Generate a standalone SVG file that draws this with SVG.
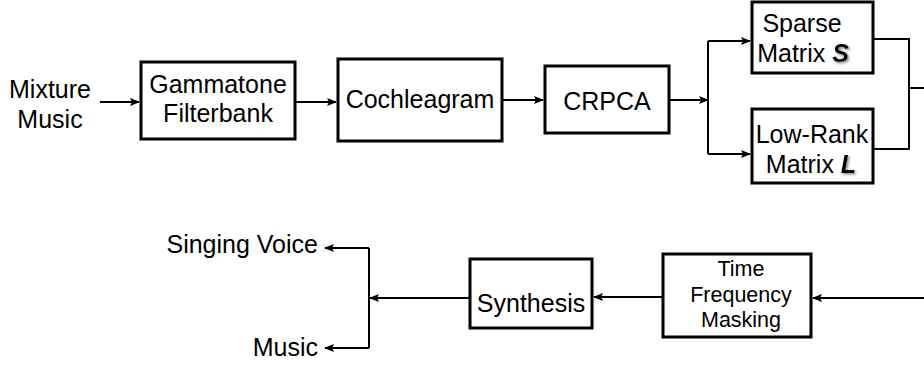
<svg xmlns="http://www.w3.org/2000/svg" width="924" height="367" viewBox="0 0 924 367">
<style>
.box{fill:#fff;stroke:#000;stroke-width:3}
.t{font-family:"Liberation Sans",Arial,sans-serif;font-size:25px;fill:#000}
.m{text-anchor:middle}
.e{text-anchor:end}
.c{fill:none;stroke:#000;stroke-width:2}
.a{fill:none;stroke:#000;stroke-width:2;marker-end:url(#ah)}
.bi{font-weight:bold;font-style:italic;filter:url(#sh)}
</style>
<defs>
<marker id="ah" markerUnits="userSpaceOnUse" markerWidth="10" markerHeight="8" refX="9" refY="4" orient="auto">
<path d="M0,0 L10,4 L0,8 L2,4 Z" fill="#000"/>
</marker>
<filter id="sh" x="-20%" y="-20%" width="150%" height="150%">
<feDropShadow dx="1.5" dy="1.5" stdDeviation="0.8" flood-color="#888"/>
</filter>
</defs>
<rect width="924" height="367" fill="#fff"/>
<g id="input">
<text class="t m" x="50" y="98">Mixture</text>
<text class="t m" x="50" y="128">Music</text>
</g>
<g id="gammatone">
<rect class="box" x="141" y="62" width="154" height="77"/>
<text class="t m" x="218" y="93">Gammatone</text>
<text class="t m" x="218" y="122">Filterbank</text>
</g>
<g id="cochleagram">
<rect class="box" x="338" y="59" width="164" height="82"/>
<text class="t m" x="420" y="108">Cochleagram</text>
</g>
<g id="crpca">
<rect class="box" x="545" y="66" width="124" height="67"/>
<text class="t m" x="607" y="110">CRPCA</text>
</g>
<g id="sparse">
<rect class="box" x="752" y="2" width="121" height="71"/>
<text class="t m" x="802" y="32">Sparse</text>
<text class="t m" x="803" y="62">Matrix <tspan class="bi">S</tspan></text>
</g>
<g id="lowrank">
<rect class="box" x="752" y="109" width="121" height="74"/>
<text class="t m" x="812" y="143">Low-Rank</text>
<text class="t m" x="811" y="173">Matrix <tspan class="bi">L</tspan></text>
</g>
<g id="tfm">
<rect class="box" x="663" y="254" width="148" height="83"/>
<text class="t m" x="741" y="276" style="font-size:21.5px">Time</text>
<text class="t m" x="741" y="302" style="font-size:21.5px">Frequency</text>
<text class="t m" x="741" y="327" style="font-size:21.5px">Masking</text>
</g>
<g id="synthesis">
<rect class="box" x="470" y="259" width="122" height="69"/>
<text class="t m" x="531" y="312">Synthesis</text>
</g>
<g id="outputs">
<text class="t e" x="318" y="253">Singing Voice</text>
<text class="t e" x="318" y="356">Music</text>
</g>
<g id="connectors">
<path class="a" d="M100,102 H139"/>
<path class="a" d="M295,102 H336"/>
<path class="a" d="M502,100 H543"/>
<path class="a" d="M669,100 H708"/>
<path class="c" d="M708,41 V154"/>
<path class="a" d="M708,41 H750"/>
<path class="a" d="M708,154 H750"/>
<path class="c" d="M873,39 H909 V149 H873"/>
<path class="c" d="M909,88 H924"/>
<path class="a" d="M924,298 H813"/>
<path class="a" d="M663,297 H594"/>
<path class="a" d="M470,298 H370"/>
<path class="c" d="M369,248 V348"/>
<path class="a" d="M369,248 H325"/>
<path class="a" d="M369,348 H325"/>
</g>
</svg>
